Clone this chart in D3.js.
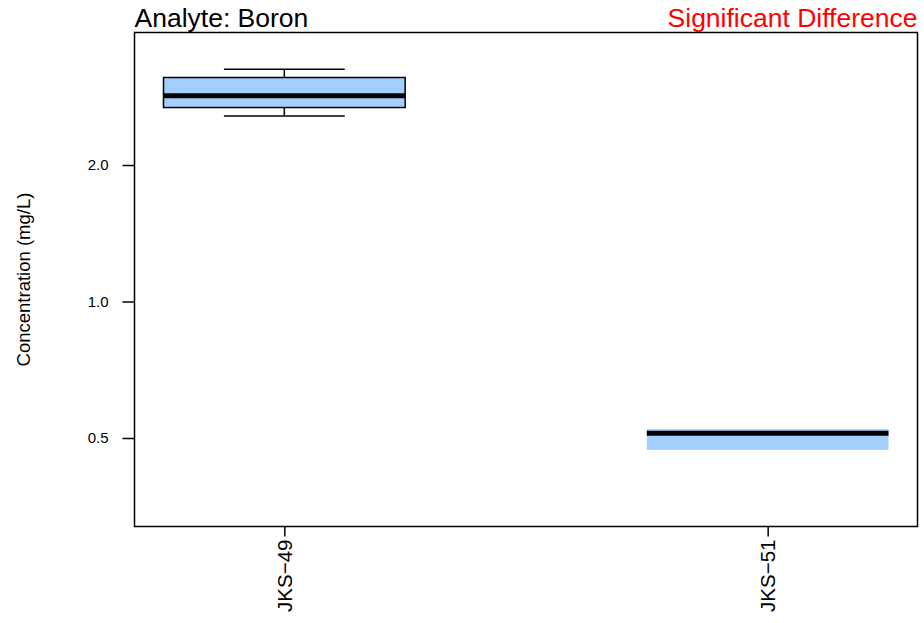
<!DOCTYPE html>
<html>
<head>
<meta charset="utf-8">
<script src="https://cdn.jsdelivr.net/npm/d3@7"></script>
<style>
  body { margin: 0; background: #fff; }
  text { font-family: "Liberation Sans", Arial, sans-serif; }
</style>
</head>
<body>
<div id="chart"></div>
<script>
// data
var groups = ["JKS\u221249", "JKS\u221251"];
var whiskerLow = [2.565, 0.471];
var q1 = [2.678, 0.471];
var median = [2.842, 0.512];
var q3 = [3.119, 0.523];
var whiskerHigh = [3.252, 0.523];
var yTicks = [0.5, 1.0, 2.0];

var title = "Analyte: Boron";
var verdict = "Significant Difference";
var yLabel = "Concentration (mg/L)";

var boxFill = "#a3cfff";
var boxStroke = ["#000", "none"];

var W = 924, H = 623;
var margin = {top: 32.5, right: 6.5, bottom: 96.5, left: 134.5};
var width = W - margin.left - margin.right,
    height = H - margin.top - margin.bottom;

var svg = d3.select("#chart").append("svg")
    .attr("width", W)
    .attr("height", H);

var g = svg.append("g")
    .attr("transform", "translate(" + margin.left + "," + margin.top + ")");

var x = d3.scaleLinear()
    .domain([0.69, 2.31])
    .range([0, width]);

var y = d3.scaleLog()
    .domain([0.319, 3.92])
    .range([height, 0]);

var boxW = x(1.5) - x(1);
var capW = boxW / 2;

var data = groups.map(function(d, i) {
  return {name: d, i: i, lo: whiskerLow[i], q1: q1[i], med: median[i], q3: q3[i], hi: whiskerHigh[i]};
});

var box = g.selectAll(".box").data(data).enter().append("g")
    .attr("class", "box")
    .attr("transform", function(d) { return "translate(" + x(d.i + 1) + ",0)"; });

// whiskers
box.append("line")
    .attr("x1", 0).attr("x2", 0)
    .attr("y1", function(d) { return y(d.hi); })
    .attr("y2", function(d) { return y(d.q3); })
    .attr("stroke", "#000").attr("stroke-width", 1.5);
box.append("line")
    .attr("x1", 0).attr("x2", 0)
    .attr("y1", function(d) { return y(d.q1); })
    .attr("y2", function(d) { return y(d.lo); })
    .attr("stroke", "#000").attr("stroke-width", 1.5);
box.filter(function(d) { return d.hi > d.q3; }).append("line")
    .attr("x1", -capW / 2).attr("x2", capW / 2)
    .attr("y1", function(d) { return y(d.hi); })
    .attr("y2", function(d) { return y(d.hi); })
    .attr("stroke", "#000").attr("stroke-width", 1.5);
box.filter(function(d) { return d.lo < d.q1; }).append("line")
    .attr("x1", -capW / 2).attr("x2", capW / 2)
    .attr("y1", function(d) { return y(d.lo); })
    .attr("y2", function(d) { return y(d.lo); })
    .attr("stroke", "#000").attr("stroke-width", 1.5);

box.append("rect")
    .attr("x", -boxW / 2)
    .attr("width", boxW)
    .attr("y", function(d) { return y(d.q3); })
    .attr("height", function(d) { return y(d.q1) - y(d.q3); })
    .attr("fill", boxFill)
    .attr("stroke", function(d) { return boxStroke[d.i]; })
    .attr("stroke-width", 1.5);

box.append("line")
    .attr("x1", -boxW / 2).attr("x2", boxW / 2)
    .attr("y1", function(d) { return y(d.med); })
    .attr("y2", function(d) { return y(d.med); })
    .attr("stroke", "#000").attr("stroke-width", 5);

// axes
var yAxis = g.append("g")
    .call(d3.axisLeft(y).tickValues(yTicks).tickFormat(d3.format(".1f")).tickSize(12).tickPadding(14));
yAxis.select(".domain").remove();
yAxis.selectAll("line").attr("stroke", "#000").attr("stroke-width", 1.5);
yAxis.selectAll("text").attr("font-size", 15).attr("fill", "#000")
    .style("font-family", "'Liberation Sans', Arial, sans-serif");

var xAxis = g.append("g")
    .attr("transform", "translate(0," + height + ")")
    .call(d3.axisBottom(x).tickValues([1, 2]).tickFormat(function(d) { return groups[d - 1]; }).tickSize(10));
xAxis.select(".domain").remove();
xAxis.selectAll("line").attr("stroke", "#000").attr("stroke-width", 1.5);
xAxis.selectAll("text")
    .attr("font-size", 20.5).attr("fill", "#000")
    .style("font-family", "'Liberation Sans', Arial, sans-serif")
    .attr("text-anchor", "end")
    .attr("dy", "0.35em")
    .attr("x", 0).attr("y", 0)
    .attr("transform", "translate(0,13) rotate(-90)");

// frame
g.append("rect")
    .attr("width", width).attr("height", height)
    .attr("fill", "none").attr("stroke", "#000").attr("stroke-width", 1.5);

// titles
svg.append("text")
    .attr("x", margin.left).attr("y", 27)
    .attr("font-size", 26.5)
    .text(title);
svg.append("text")
    .attr("x", margin.left + width).attr("y", 27)
    .attr("text-anchor", "end")
    .attr("font-size", 26.5)
    .attr("fill", "#ff0000")
    .text(verdict);

svg.append("text")
    .attr("transform", "translate(30," + (margin.top + height / 2) + ") rotate(-90)")
    .attr("text-anchor", "middle")
    .attr("font-size", 18.5)
    .text(yLabel);
</script>
</body>
</html>
